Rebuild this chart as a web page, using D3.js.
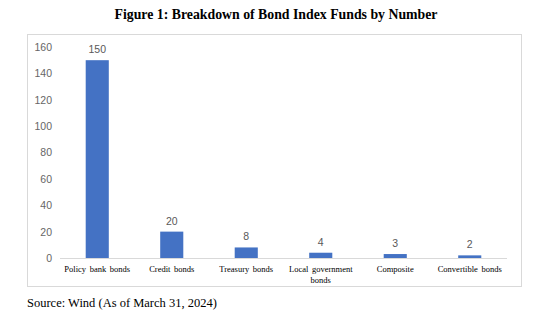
<!DOCTYPE html>
<html><head><meta charset="utf-8">
<script src="https://cdn.jsdelivr.net/npm/d3@7"></script>
<style>body{margin:0;background:#fff}</style>
</head><body>
<svg id="c" width="550" height="334"></svg>
<script>
const categories = [["Policy bank bonds"],["Credit bonds"],["Treasury bonds"],["Local government","bonds"],["Composite"],["Convertible bonds"]];
const values = [150, 20, 8, 4, 3, 2];
const yTicks = [0, 20, 40, 60, 80, 100, 120, 140, 160];
const title = "Figure 1: Breakdown of Bond Index Funds by Number";
const source = "Source: Wind (As of March 31, 2024)";

const svg = d3.select("#c");
svg.append("rect").attr("x",0).attr("y",0).attr("width",550).attr("height",334).attr("fill","#fff");
svg.append("text").attr("x",276).attr("y",19).attr("text-anchor","middle")
  .attr("font-family","Liberation Serif").attr("font-weight","bold").attr("font-size",13.8).attr("fill","#000").text(title);
svg.append("rect").attr("x",27.5).attr("y",34.5).attr("width",494).attr("height",252)
  .attr("fill","#fff").attr("stroke","#d9d9d9").attr("stroke-width",1);

const x = d3.scaleBand().domain(d3.range(categories.length)).range([60, 507]).paddingInner(0.69).paddingOuter(0.345);
const y = d3.scaleLinear().domain([0,160]).range([258, 47]);

const g = svg.append("g");
g.append("g").attr("transform","translate(52,0)")
  .call(d3.axisLeft(y).tickValues(yTicks).tickSize(0).tickPadding(0))
  .call(a=>a.select(".domain").remove())
  .call(a=>a.selectAll("text").attr("font-family","Liberation Sans").attr("font-size",10.5).attr("fill","#666"));

g.selectAll("rect.bar").data(values).join("rect").attr("class","bar")
  .attr("x",(d,i)=>x(i)).attr("width",x.bandwidth())
  .attr("y",d=>y(d)).attr("height",d=>y(0)-y(d)).attr("fill","#4472C4");

g.append("line").attr("x1",60).attr("x2",507).attr("y1",y(0)+0.5).attr("y2",y(0)+0.5).attr("stroke","#d9d9d9");

g.selectAll("text.val").data(values).join("text").attr("class","val")
  .attr("x",(d,i)=>x(i)+x.bandwidth()/2).attr("y",d=>y(d)-7)
  .attr("text-anchor","middle").attr("font-family","Liberation Sans").attr("font-size",10.5).attr("fill","#595959").text(d=>d);

const cl = g.selectAll("text.cat").data(categories).join("text").attr("class","cat")
  .attr("x",(d,i)=>x(i)+x.bandwidth()/2).attr("y",272)
  .attr("text-anchor","middle").attr("font-family","Liberation Serif").attr("font-size",8.5).attr("word-spacing",1.5).attr("fill","#000");
cl.selectAll("tspan").data(d=>d).join("tspan")
  .attr("x",function(){return this.parentNode.getAttribute("x");})
  .attr("dy",(d,i)=>i===0?0:10.5).text(d=>d);

svg.append("text").attr("x",27).attr("y",307).attr("font-family","Liberation Serif").attr("font-size",12.5).attr("fill","#000").text(source);
</script>
</body></html>
